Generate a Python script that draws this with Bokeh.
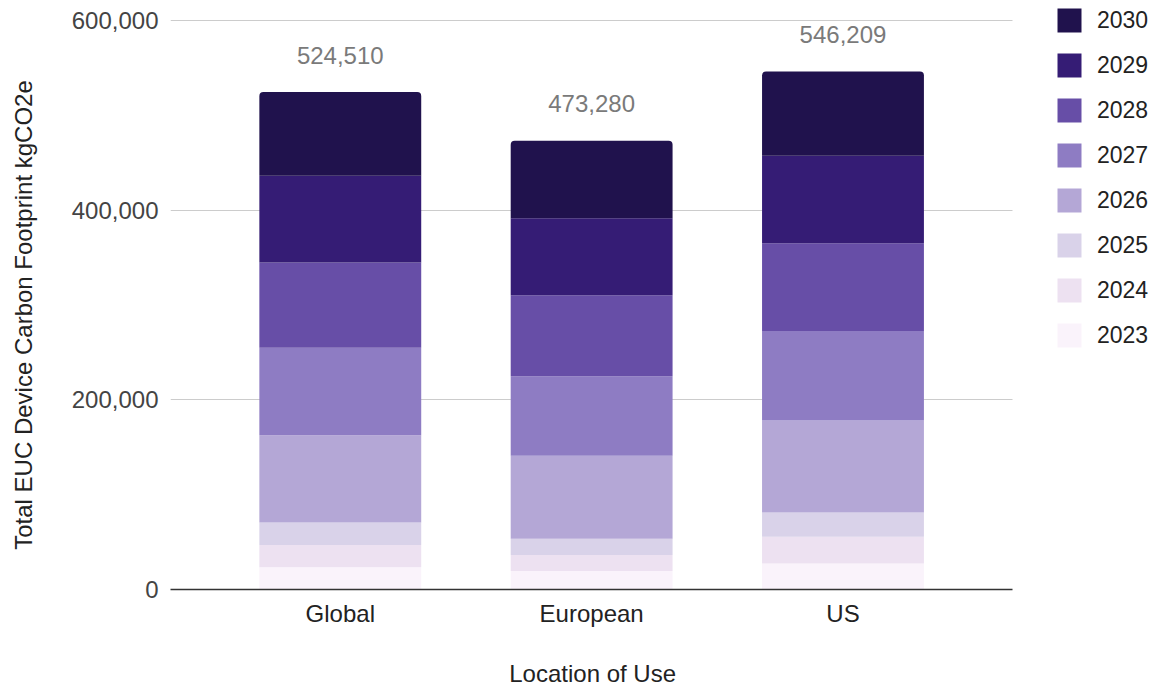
from bokeh.plotting import figure
from bokeh.models import (ColumnDataSource, Range1d, Legend, LegendItem,
                          NumeralTickFormatter, FixedTicker)
from bokeh.transform import stack
from bokeh.core.properties import value
from bokeh.embed import file_html
from bokeh.resources import INLINE

# ---------------- data ----------------
locations = ["Global", "European", "US"]
years = ["2023", "2024", "2025", "2026", "2027", "2028", "2029", "2030"]
v2023 = [23500, 19600, 27500]
v2024 = [23500, 16900, 28200]
v2025 = [23600, 16900, 25600]
v2026 = [92000, 87700, 96900]
v2027 = [92400, 83800, 94400]
v2028 = [89800, 85300, 92500]
v2029 = [91500, 81400, 92200]
v2030 = [88210, 81680, 88909]
y_ticks = [0, 200000, 400000, 600000]
colors = ["#faf3fb", "#ede1f1", "#d9d2e9", "#b4a7d6",
          "#8e7cc3", "#674ea7", "#351c75", "#20124d"]

# ---------------- layout constants ----------------
X_LO, X_HI, X_BAR_END = 0.3245, 4.2672, 3.6755   # visible x extent / plot-area end
Y_HI = 621090                                   # leaves room above 600,000 for legend

series = [v2023, v2024, v2025, v2026, v2027, v2028, v2029, v2030]
xs = [i + 1 for i in range(len(locations))]
data = {"x": xs, "loc": locations}
for yr, vals in zip(years, series):
    data[yr] = vals
totals = [sum(s[i] for s in series) for i in range(len(locations))]
data["total"] = totals
data["total_label"] = [f"{t:,}" for t in totals]
src = ColumnDataSource(data)

FONT = "Liberation Sans"

p = figure(x_range=Range1d(X_LO, X_HI), y_range=Range1d(0, Y_HI),
           width=1161, height=689, output_backend="svg", toolbar_location=None,
           min_border_left=170, min_border_right=0,
           min_border_top=0, min_border_bottom=100)
p.outline_line_color = None
p.background_fill_color = "white"

# grid lines limited to the plot area
grid_ok = True
try:
    p.ygrid.cross_bounds = (X_LO, X_BAR_END)
except AttributeError:
    grid_ok = False
p.xgrid.grid_line_color = None
p.ygrid.ticker = FixedTicker(ticks=y_ticks)
if grid_ok:
    p.ygrid.grid_line_color = "#cccccc"
else:
    p.ygrid.grid_line_color = None
    p.segment(x0=[X_LO] * len(y_ticks), x1=[X_BAR_END] * len(y_ticks),
              y0=y_ticks, y1=y_ticks, line_color="#cccccc", line_width=1)

items = []
for i, yr in enumerate(years):
    kw = {}
    if i == len(years) - 1:
        kw["border_radius"] = (4, 4, 0, 0)
    bottom = stack(*years[:i]) if i > 0 else 0
    r = p.vbar(x="x", bottom=bottom, top=stack(*years[:i + 1]), width=0.644,
               source=src, fill_color=colors[i], line_color=None, **kw)
    items.append(LegendItem(label=yr, renderers=[r]))

p.text(x="x", y="total", text="total_label", source=src,
       text_align="center", text_baseline="alphabetic", y_offset=-37,
       text_font=value(FONT), text_font_size="24px", text_color="#7a7a7a")

legend = Legend(items=items[::-1], location=(884, 239), padding=0, margin=0,
                spacing=15, glyph_width=30, glyph_height=30, label_standoff=13,
                label_text_font=FONT, label_text_font_size="23px",
                label_text_color="#222222", border_line_color=None,
                background_fill_color=None)
p.add_layout(legend)

# axes
xa = p.xaxis[0]
xa.ticker = FixedTicker(ticks=xs)
xa.major_label_overrides = {x: name for x, name in zip(xs, locations)}
xa.bounds = (X_LO, X_BAR_END)
# trailing spaces shift the centred title left onto the bar area's centre
xa.axis_label = "Location of Use" + " " * 22
xa.axis_label_standoff = 30
xa.axis_label_text_font = FONT
xa.axis_label_text_font_size = "24px"
xa.axis_label_text_font_style = "normal"
xa.axis_label_text_color = "#222222"
xa.major_label_text_font = FONT
xa.major_label_text_font_size = "24px"
xa.major_label_text_color = "#222222"
xa.major_label_standoff = 4
xa.major_tick_line_color = None
xa.minor_tick_line_color = None
xa.axis_line_color = "#333333"
xa.axis_line_width = 1.5

ya = p.yaxis[0]
ya.ticker = FixedTicker(ticks=y_ticks)
ya.formatter = NumeralTickFormatter(format="0,0")
ya.axis_label = "Total EUC Device Carbon Footprint kgCO2e" + " " * 6
ya.axis_label_standoff = 32
ya.axis_label_text_font = FONT
ya.axis_label_text_font_size = "24px"
ya.axis_label_text_font_style = "normal"
ya.axis_label_text_color = "#222222"
ya.major_label_text_font = FONT
ya.major_label_text_font_size = "24px"
ya.major_label_text_color = "#444444"
ya.major_label_standoff = 6
ya.major_tick_line_color = None
ya.minor_tick_line_color = None
ya.axis_line_color = None

open("out.html", "w").write(file_html(p, INLINE))
